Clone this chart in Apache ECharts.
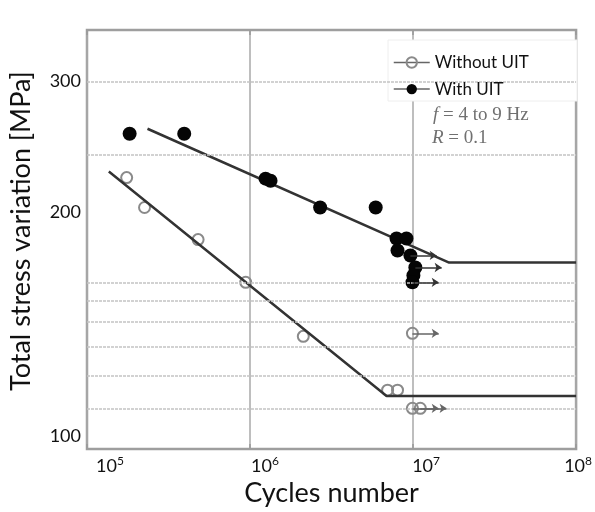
<!DOCTYPE html>
<html>
<head>
<meta charset="utf-8">
<script src="https://cdn.jsdelivr.net/npm/echarts@6/dist/echarts.min.js"></script>
<style>
  html, body { margin: 0; padding: 0; background: #fff; }
  #chart { width: 595px; height: 512px; }
</style>
</head>
<body>
<div id="chart"></div>
<script>
// Fatigue test results: cycles to failure vs. total stress range [MPa]
const withoutCycles = [1.751e5, 2.254e5, 4.803e5, 9.41e5, 2.122e6, 6.98e6, 8.03e6, 9.91e6, 9.91e6, 1.108e7];
const withoutStress = [222.7, 203.0, 183.8, 161.0, 136.2, 115.3, 115.3, 137.5, 109.0, 109.0];
const withoutRunout = [0, 0, 0, 0, 0, 0, 0, 1, 1, 1];

const withCycles = [1.826e5, 3.948e5, 1.245e6, 1.336e6, 2.692e6, 5.90e6, 7.92e6, 9.11e6, 8.03e6, 9.63e6, 1.033e7, 1.005e7, 9.91e6];
const withStress = [255.1, 255.1, 222.0, 220.6, 203.0, 203.0, 184.4, 184.4, 177.7, 175.0, 168.6, 164.5, 161.0];
const withRunout = [0, 0, 0, 0, 0, 0, 0, 0, 0, 1, 1, 0, 1];

// Fitted S-N curves: sloped part followed by the endurance plateau
const withoutFitCycles = [1.361e5, 6.88e6, 1e8];
const withoutFitStress = [226.9, 113.2, 113.2];
const withFitCycles = [2.35e5, 1.664e7, 1e8];
const withFitStress = [259.1, 171.2, 171.2];

// Horizontal reference lines of the stress grid [MPa]
const stressGridLines = [299.6, 239.1, 161.0, 151.9, 142.4, 132.0, 120.7, 108.7];
const stressTicks = [100, 200, 300];
const cycleRange = [1e5, 1e8];
const stressRange = [96.06, 351.8];

// Length of the run-out arrows, as a factor on the cycle count
const runoutFactor = 1.45;

const pairs = (xs, ys) => xs.map((x, i) => [x, ys[i]]);
const runoutArrows = (xs, ys, flags) =>
  xs.map((x, i) => flags[i] ? [{ coord: [x, ys[i]] }, { coord: [x * runoutFactor, ys[i]] }] : null)
    .filter(Boolean);

const labelFont = 'Lato, "Open Sans", sans-serif';

const chart = echarts.init(document.getElementById('chart'), null, { renderer: 'canvas' });

chart.setOption({
  animation: false,
  backgroundColor: '#fff',
  grid: {
    left: 85, right: 17, top: 30, bottom: 62,
    show: true, borderColor: '#9e9e9e', borderWidth: 2.5, backgroundColor: '#fff'
  },
  legend: {
    orient: 'vertical',
    left: 388, top: 49,
    itemWidth: 36, itemHeight: 13, itemGap: 9.6,
    z: 10,
    textStyle: { fontFamily: labelFont, fontSize: 17, color: '#111' },
    lineStyle: { opacity: 1, width: 1.5, color: '#666' },
    data: ['Without UIT', 'With UIT']
  },
  xAxis: [{
    type: 'log', logBase: 10, min: cycleRange[0], max: cycleRange[1],
    axisLine: { show: false },
    axisTick: { show: true, inside: true, length: 5, lineStyle: { color: '#999', width: 1.5 } },
    splitLine: { show: true, lineStyle: { color: '#a8a8a8', width: 1.5 } },
    axisLabel: {
      margin: 6,
      formatter: v => {
        const e = Math.round(Math.log10(v));
        return '{b' + e + '|10}{s|' + e + '}';
      },
      rich: {
        b5: { fontFamily: labelFont, fontSize: 18, color: '#111', padding: [0, 0, 0, 46] },
        b6: { fontFamily: labelFont, fontSize: 18, color: '#111', padding: [0, 0, 0, 30] },
        b7: { fontFamily: labelFont, fontSize: 18, color: '#111', padding: [0, 0, 0, 26] },
        b8: { fontFamily: labelFont, fontSize: 18, color: '#111', padding: [0, 0, 0, 4] },
        s: { fontFamily: labelFont, fontSize: 12, color: '#111', padding: [0, 0, 10, 0] }
      }
    },
    name: 'Cycles number',
    nameLocation: 'middle',
    nameGap: 23,
    nameTextStyle: { fontFamily: labelFont, fontSize: 27, color: '#111' }
  }, {
    type: 'log', logBase: 10, min: cycleRange[0], max: cycleRange[1],
    position: 'top',
    axisLine: { show: false },
    axisTick: { show: true, inside: true, length: 5, lineStyle: { color: '#999', width: 1.5 } },
    axisLabel: { show: false },
    splitLine: { show: false }
  }],
  yAxis: {
    type: 'log', logBase: 10, min: stressRange[0], max: stressRange[1],
    axisLine: { show: false },
    axisTick: { show: false },
    splitLine: { show: false },
    axisLabel: {
      customValues: stressTicks,
      margin: 6,
      fontFamily: labelFont, fontSize: 18, color: '#111'
    },
    name: 'Total stress variation [MPa]',
    nameLocation: 'middle',
    nameGap: 52,
    nameTextStyle: { fontFamily: labelFont, fontSize: 27, color: '#111', padding: [0, 0, 0, 17] }
  },
  graphic: [
    {
      type: 'rect', z: 3, silent: true,
      shape: { x: 388, y: 40, width: 189, height: 61 },
      style: { fill: '#fff', stroke: '#eeeeee', lineWidth: 1 }
    },
    {
      type: 'text', z: 11, silent: true,
      x: 433, y: 115,
      style: {
        text: '{i|f} = 4 to 9 Hz',
        fill: '#707070',
        font: '19px "Liberation Serif", serif',
        verticalAlign: 'middle',
        rich: { i: { fontStyle: 'italic', fontFamily: '"Liberation Serif", serif', fontSize: 19, fill: '#707070' } }
      }
    },
    {
      type: 'text', z: 11, silent: true,
      x: 432, y: 138,
      style: {
        text: '{i|R} = 0.1',
        fill: '#707070',
        font: '19px "Liberation Serif", serif',
        verticalAlign: 'middle',
        rich: { i: { fontStyle: 'italic', fontFamily: '"Liberation Serif", serif', fontSize: 19, fill: '#707070' } }
      }
    }
  ],
  series: [
    {
      // stress grid lines
      type: 'line', data: [], z: 1, silent: true,
      markLine: {
        silent: true, symbol: 'none', animation: false,
        label: { show: false },
        lineStyle: { color: '#c4c4c4', width: 1.5, type: [3, 1] },
        data: stressGridLines.map(v => ({ yAxis: v }))
      }
    },
    {
      name: 'Without UIT',
      type: 'line',
      data: pairs(withoutCycles, withoutStress),
      z: 2,
      symbol: 'circle', symbolSize: 11, showSymbol: true, showAllSymbol: true,
      lineStyle: { opacity: 0 },
      itemStyle: { color: 'rgba(255,255,255,0)', borderColor: '#8a8a8a', borderWidth: 2 },
      markLine: {
        silent: true, symbol: ['none', 'arrow'], symbolSize: 7, animation: false,
        label: { show: false },
        lineStyle: { color: '#666', width: 1.5, type: 'solid' },
        data: runoutArrows(withoutCycles, withoutStress, withoutRunout)
      }
    },
    {
      name: 'With UIT',
      type: 'line',
      data: pairs(withCycles, withStress),
      z: 4,
      symbol: 'circle', symbolSize: 14, showSymbol: true, showAllSymbol: true,
      lineStyle: { opacity: 0 },
      itemStyle: { color: '#050505' },
      markLine: {
        silent: true, symbol: ['none', 'arrow'], symbolSize: 7, animation: false,
        label: { show: false },
        lineStyle: { color: '#333', width: 1.5, type: 'solid' },
        data: runoutArrows(withCycles, withStress, withRunout)
      }
    },
    {
      type: 'line', silent: true, z: 3,
      data: pairs(withoutFitCycles, withoutFitStress),
      symbol: 'none',
      lineStyle: { color: '#333', width: 2.5 }
    },
    {
      type: 'line', silent: true, z: 3,
      data: pairs(withFitCycles, withFitStress),
      symbol: 'none',
      lineStyle: { color: '#333', width: 2.5 }
    }
  ]
});
</script>
</body>
</html>
